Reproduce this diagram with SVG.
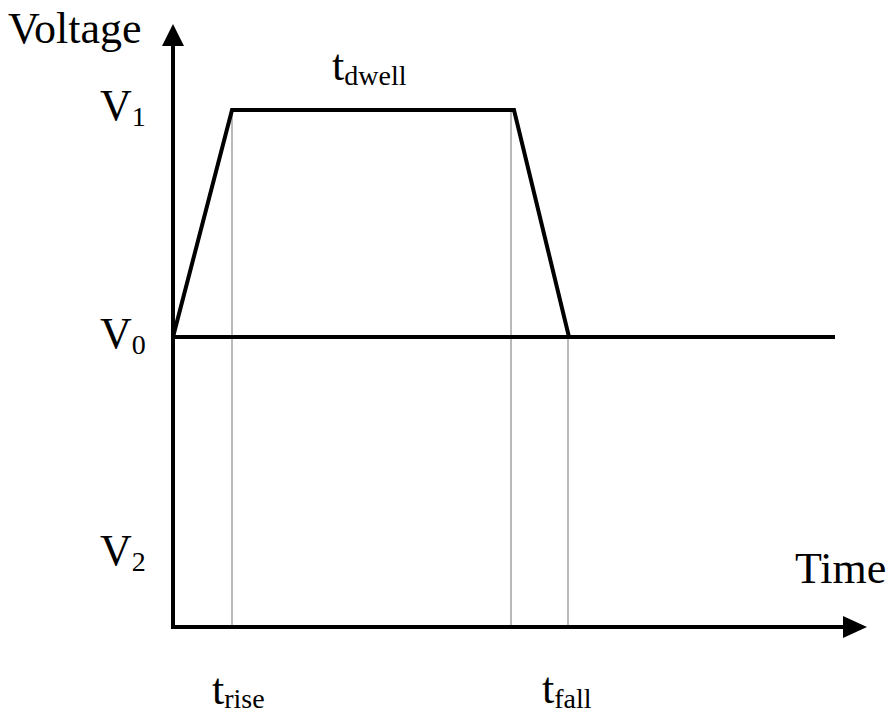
<svg xmlns="http://www.w3.org/2000/svg" width="896" height="719" viewBox="0 0 896 719">
<style>
.t{font-family:"Liberation Serif","Times New Roman",serif;fill:#000}
.big{font-size:44px}
.sub{font-size:28px}
.thick{stroke:#000;stroke-width:4;fill:none}
.thin{stroke:#8a8a8a;stroke-width:1.2;fill:none}
</style>
<rect width="896" height="719" fill="#fff"/>
<g id="guides">
<line class="thin" x1="232" y1="110" x2="232" y2="627"/>
<line class="thin" x1="511" y1="110" x2="511" y2="627"/>
<line class="thin" x1="568" y1="337" x2="568" y2="627"/>
</g>
<g id="axes">
<line class="thick" x1="173" y1="629" x2="173" y2="44"/>
<polygon points="173,24 162,46 184,46" fill="#000"/>
<line class="thick" x1="171" y1="627" x2="845" y2="627"/>
<polygon points="867,627 843,616 843,638" fill="#000"/>
</g>
<g id="signal">
<line class="thick" x1="173" y1="337" x2="835" y2="337"/>
<polyline class="thick" points="173,337 232,110 514,110 569,337" stroke-linejoin="miter"/>
</g>
<g id="labels">
<text class="t big" x="8" y="43">Voltage</text>
<text class="t big" x="795" y="583">Time</text>
<text class="t big" x="100" y="120">V<tspan class="sub" dy="6">1</tspan></text>
<text class="t big" x="100" y="348">V<tspan class="sub" dy="6">0</tspan></text>
<text class="t big" x="100" y="565">V<tspan class="sub" dy="6">2</tspan></text>
<text class="t big" x="332" y="80">t<tspan class="sub" dy="5">dwell</tspan></text>
<text class="t big" x="212" y="704">t<tspan class="sub" dy="4">rise</tspan></text>
<text class="t big" x="542" y="703">t<tspan class="sub" dy="5">fall</tspan></text>
</g>
</svg>
